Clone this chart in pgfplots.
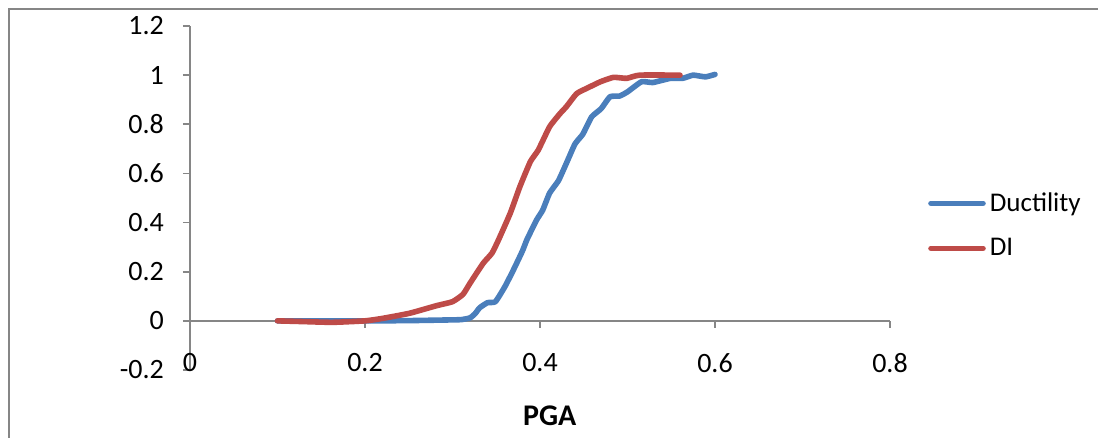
\documentclass[border=0pt]{standalone}
\usepackage{fontspec}
\setmainfont{Carlito}
\usepackage{pgfplots}
\pgfplotsset{compat=1.18}
\definecolor{ductblue}{HTML}{4A7EBB}
\definecolor{dired}{HTML}{BE4B48}
\definecolor{axgray}{HTML}{868686}
\begin{document}
\begin{tikzpicture}
\useasboundingbox (-95pt,-34pt) rectangle (454pt,185pt);
% chart area border (only left and top edges are inside the picture)
\draw[axgray, line width=1pt] (-90.5pt,-40pt) -- (-90.5pt,180.5pt) -- (460pt,180.5pt);
\begin{axis}[
    at={(0,0)}, anchor=south west,
    width=350pt, height=172pt, scale only axis,
    xmin=0, xmax=0.8, ymin=-0.2, ymax=1.2,
    axis x line*=middle, axis y line*=left,
    hide obscured x ticks=false,
    xtick={0,0.2,0.4,0.6,0.8},
    ytick={-0.2,0,0.2,0.4,0.6,0.8,1,1.2},
    tick align=outside,
    major tick length=3.5pt,
    axis line style={axgray, line width=0.9pt},
    tick style={axgray, line width=0.9pt},
    tick label style={font=\fontsize{14}{16}\selectfont},
    /pgf/number format/assume math mode=true,
    /pgf/number format/fixed,
    xticklabel style={anchor=center, yshift=-17.5pt},
    yticklabel style={xshift=-6pt},
    xlabel={\textbf{PGA}},
    x label style={at={(axis description cs:0.514,0)}, anchor=center, yshift=-23pt, font=\fontsize{15}{17}\selectfont},
    legend style={at={(1.054,0.42)}, anchor=west, draw=none, inner sep=0pt,
        font=\fontsize{13.5}{15}\selectfont, row sep=8pt},
    legend cell align=left,
    legend image code/.code={\draw[#1, line width=2.8pt, line cap=round] (0pt,0pt) -- (26pt,0pt);},
]
\addplot[ductblue, line width=2.8pt, line cap=round, line join=round, smooth, tension=0.3] coordinates {
(0.10,0)(0.15,0)(0.20,0)(0.25,0.001)(0.30,0.004)(0.31,0.005)(0.32,0.012)(0.326,0.03)
(0.331,0.053)(0.34,0.074)(0.349,0.078)(0.36,0.14)(0.37,0.21)(0.38,0.285)(0.385,0.33)
(0.396,0.41)(0.403,0.45)(0.411,0.52)(0.421,0.57)(0.430,0.64)(0.44,0.72)(0.449,0.76)
(0.459,0.83)(0.470,0.864)(0.48,0.912)(0.491,0.915)(0.50,0.932)(0.516,0.973)(0.529,0.97)
(0.549,0.987)(0.563,0.987)(0.575,1.0)(0.589,0.993)(0.60,1.003)
};
\addlegendentry{Ductility}
\addplot[dired, line width=2.8pt, line cap=round, line join=round, smooth, tension=0.3] coordinates {
(0.10,0)(0.13,-0.003)(0.163,-0.006)(0.20,0)(0.22,0.01)(0.251,0.031)(0.282,0.062)
(0.30,0.078)(0.312,0.108)(0.32,0.153)(0.335,0.234)(0.345,0.275)(0.352,0.325)(0.366,0.438)
(0.377,0.546)(0.389,0.648)(0.398,0.695)(0.411,0.79)(0.423,0.844)(0.43,0.871)(0.442,0.925)
(0.455,0.949)(0.469,0.973)(0.484,0.991)(0.499,0.987)(0.514,1.0)(0.56,1.0)
};
\addlegendentry{DI}
\end{axis}
\end{tikzpicture}
\end{document}
